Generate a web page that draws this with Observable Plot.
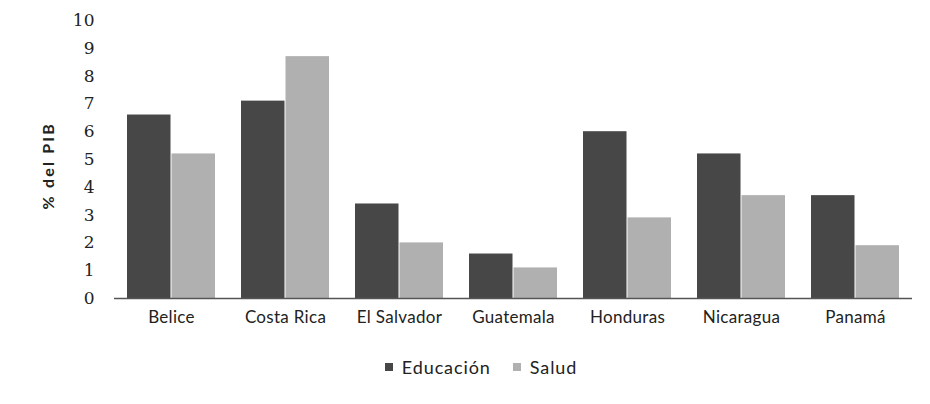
<!DOCTYPE html>
<html>
<head>
<meta charset="utf-8">
<script src="https://cdn.jsdelivr.net/npm/d3@7"></script>
<script src="https://cdn.jsdelivr.net/npm/@observablehq/plot@0.6"></script>
<style>
  html, body { margin: 0; padding: 0; background: #fff; }
  #chart { width: 930px; height: 404px; position: relative; font-family: Lato, "Open Sans", sans-serif; }
  #chart svg g[aria-label="y-axis tick label"] text { font-family: "DejaVu Serif", "Liberation Serif", serif; font-size: 17px; }
  #chart svg g[aria-label="x-axis tick label"] text { font-size: 17px; letter-spacing: 0.3px; }
  .legend { display: flex; justify-content: center; align-items: center; gap: 22px; padding-left: 32px;
            margin-top: 8px; font-size: 18px; letter-spacing: 0.9px; color: #222; }
  .legend span.sw { display: inline-block; width: 8px; height: 8px; margin-right: 9px; vertical-align: middle; }
  .legend .item { display: inline-flex; align-items: center; }
</style>
</head>
<body>
<div id="chart"></div>
<script>
const countries = ["Belice", "Costa Rica", "El Salvador", "Guatemala", "Honduras", "Nicaragua", "Panamá"];
const educacion = [6.6, 7.1, 3.4, 1.6, 6.0, 5.2, 3.7];
const salud = [5.2, 8.7, 2.0, 1.1, 2.9, 3.7, 1.9];
const seriesNames = ["Educación", "Salud"];
const seriesColors = ["#474747", "#b0b0b0"];
const yTicks = [0, 1, 2, 3, 4, 5, 6, 7, 8, 9, 10];
const yLabel = "% del PIB";

const eduData = countries.map((c, i) => ({country: c, series: seriesNames[0], value: educacion[i]}));
const salData = countries.map((c, i) => ({country: c, series: seriesNames[1], value: salud[i]}));

const chart = Plot.plot({
  width: 930,
  height: 348,
  marginTop: 20,
  marginBottom: 50,
  marginLeft: 114,
  marginRight: 18,
  style: {fontFamily: "Lato, 'Open Sans', sans-serif", fontSize: "16px", color: "#222", background: "white"},
  x: {domain: countries, paddingInner: 0.23, paddingOuter: 0.115, label: null},
  y: {domain: [0, 10], label: null},
  color: {domain: seriesNames, range: seriesColors},
  marks: [
    Plot.barY(eduData, {x: "country", y: "value", fill: "series", insetRight: 44.5}),
    Plot.barY(salData, {x: "country", y: "value", fill: "series", insetLeft: 44.5}),
    Plot.ruleY([0], {stroke: "#555", strokeWidth: 1.5}),
    Plot.axisY({ticks: yTicks, tickSize: 0, tickPadding: 20, label: null}),
    Plot.axisX({tickSize: 0, tickPadding: 12, label: null}),
    Plot.text([yLabel], {text: d => d, frameAnchor: "left", dx: -66, dy: 50, rotate: -90,
                         textAnchor: "start", fontWeight: "bold", fontSize: 16, stroke: null})
  ]
});

const root = document.getElementById("chart");
root.appendChild(chart);
const lab = chart.querySelector('g[aria-label="text"] text');
if (lab) lab.style.letterSpacing = "2.2px";

const legend = document.createElement("div");
legend.className = "legend";
seriesNames.forEach((name, i) => {
  const item = document.createElement("span");
  item.className = "item";
  const sw = document.createElement("span");
  sw.className = "sw";
  sw.style.background = seriesColors[i];
  item.appendChild(sw);
  item.appendChild(document.createTextNode(name));
  legend.appendChild(item);
});
root.appendChild(legend);
</script>
</body>
</html>
